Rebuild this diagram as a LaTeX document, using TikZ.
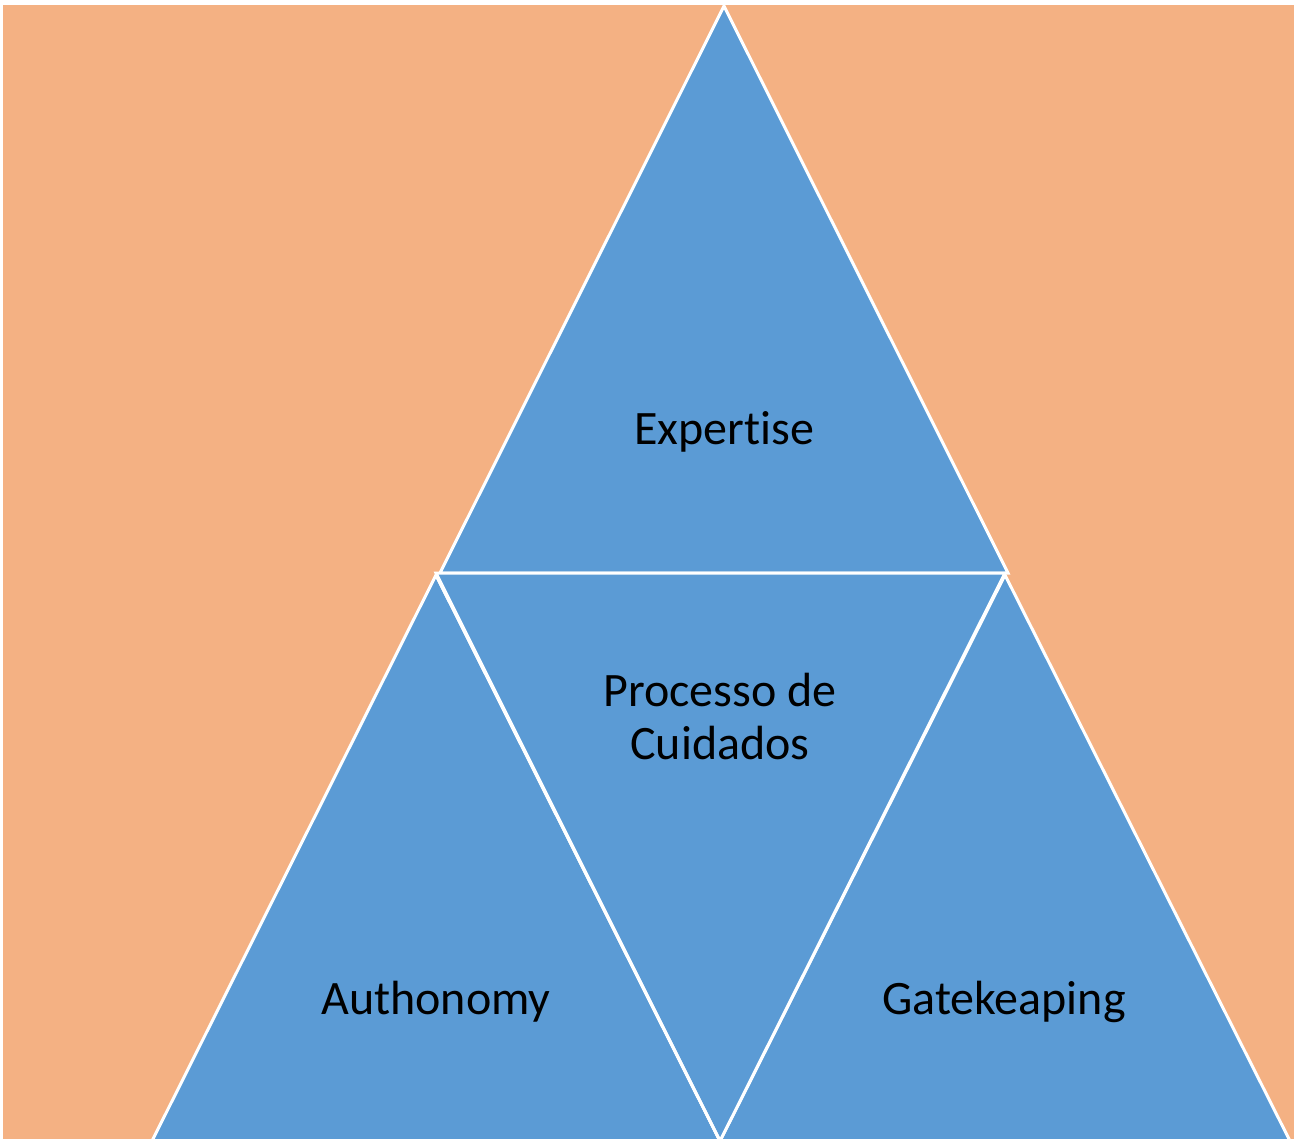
\documentclass[tikz,border=0pt]{standalone}
\usepackage{fontspec}
\setmainfont[Ligatures=NoCommon]{Carlito}
\definecolor{bgorange}{HTML}{F4B183}
\definecolor{triblue}{HTML}{5B9BD5}
\begin{document}
\begin{tikzpicture}[x=1pt,y=-1pt,
  tri/.style={fill=triblue,draw=white,line width=3pt,line join=miter},
  lbl/.style={font=\fontsize{48}{53}\selectfont,text=black,align=center,inner sep=0pt}]
\useasboundingbox (0,0) rectangle (1294,1139);
\fill[white] (0,0) rectangle (1294,1139);
\fill[bgorange] (3,5) rectangle (1294,1139);
% triangles
\draw[tri] (724,6) -- (1008,573) -- (440,573) -- cycle;
\draw[tri] (436,575) -- (720,1141) -- (152,1141) -- cycle;
\draw[tri] (1005,575) -- (1290,1141) -- (720,1141) -- cycle;
\draw[tri] (436,573) -- (1005,573) -- (720,1141) -- cycle;
\draw[white,line width=3pt] (436,575) -- (720,1141);
% labels
\node[lbl] (exp) at (724,432) {Expertise};
\node[lbl] (proc) at (720,717) {Processo de\\Cuidados};
\node[lbl] (aut) at (436,1002) {Authonomy};
\node[lbl] (gate) at (1004,1002) {Gatekeaping};
\end{tikzpicture}
\end{document}
